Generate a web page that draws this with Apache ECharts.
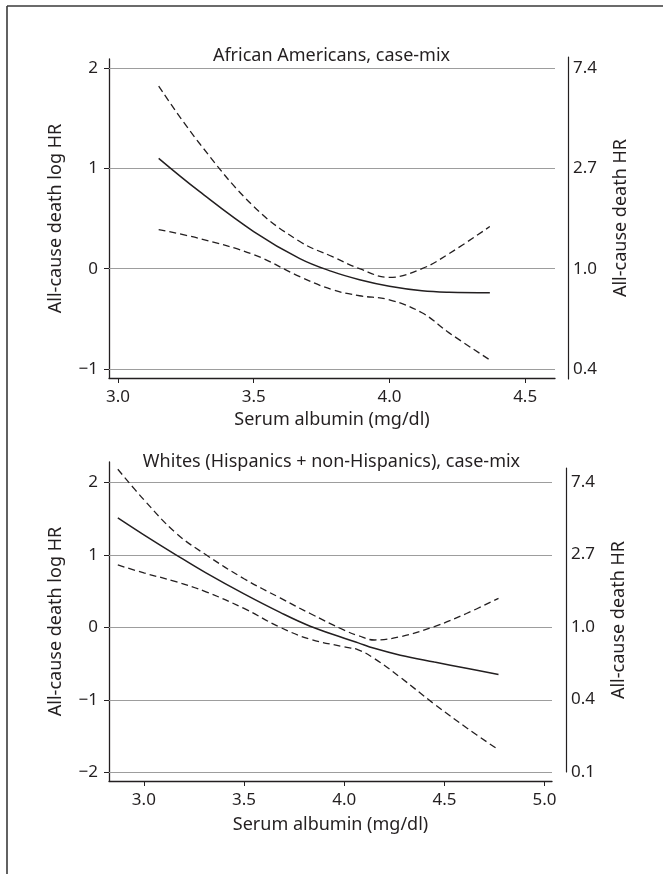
<!DOCTYPE html>
<html>
<head>
<meta charset="utf-8">
<script src="https://cdn.jsdelivr.net/npm/echarts@6/dist/echarts.min.js"></script>
<style>
  html, body { margin: 0; padding: 0; background: #fff; }
  #main { width: 663px; height: 874px; }
</style>
</head>
<body>
<div id="main"></div>
<script>
// 数据：上图 African Americans
var albuminTop = [3.15, 3.3, 3.5, 3.67, 3.79, 3.89, 4.0, 4.12, 4.22, 4.37];
var hrTop = [1.10, 0.77, 0.37, 0.10, -0.03, -0.11, -0.175, -0.22, -0.235, -0.24];
var upperTop = [1.82, 1.25, 0.62, 0.27, 0.12, 0.0, -0.087, 0.0, 0.15, 0.42];
var lowerTop = [0.39, 0.30, 0.14, -0.08, -0.21, -0.27, -0.31, -0.44, -0.64, -0.91];

// 数据：下图 Whites
var albuminBot = [2.87, 3.0, 3.16, 3.31, 3.5, 3.68, 3.83, 4.0, 4.07, 4.15, 4.28, 4.45, 4.61, 4.77];
var hrBot = [1.51, 1.276, 1.0, 0.75, 0.46, 0.205, 0.015, -0.15, -0.215, -0.29, -0.385, -0.48, -0.565, -0.65];
var upperBot = [2.18, 1.76, 1.30, 1.0, 0.67, 0.405, 0.19, -0.04, -0.115, -0.175, -0.13, 0.01, 0.19, 0.40];
var lowerBot = [0.86, 0.75, 0.63, 0.49, 0.26, 0.0, -0.165, -0.27, -0.31, -0.43, -0.69, -1.06, -1.385, -1.69];

// 刻度
var xTicksTop = [3.0, 3.5, 4.0, 4.5];
var xTicksBot = [3.0, 3.5, 4.0, 4.5, 5.0];
var logTicksTop = [-1, 0, 1, 2];
var logTicksBot = [-2, -1, 0, 1, 2];
var hrLabelsTop = ['0.4', '1.0', '2.7', '7.4'];
var hrLabelsBot = ['0.1', '0.4', '1.0', '2.7', '7.4'];

var ink = '#231f20';
var gridGray = '#9d9d9d';
var font = 'Noto Sans';

function pairs(xs, ys) {
    return xs.map(function (x, i) { return [x, ys[i]]; });
}

function xAxisOf(gridIndex, min, max, ticks, gap) {
    return {
        type: 'value', gridIndex: gridIndex, min: min, max: max,
        name: 'Serum albumin (mg/dl)', nameLocation: 'middle', nameGap: gap,
        nameTextStyle: { fontFamily: font, fontSize: 18, color: ink },
        axisLine: { show: true, onZero: false, lineStyle: { color: ink, width: 1.3 } },
        axisTick: { show: true, length: 5, customValues: ticks, lineStyle: { color: ink } },
        axisLabel: {
            customValues: ticks, margin: 11,
            fontFamily: font, fontSize: 17, color: ink,
            formatter: function (v) { return v.toFixed(1); }
        },
        splitLine: { show: false }
    };
}

function leftAxisOf(gridIndex, min, max, ticks) {
    return {
        type: 'value', gridIndex: gridIndex, min: min, max: max, position: 'left',
        name: 'All-cause death log HR', nameLocation: 'middle', nameGap: 44,
        nameTextStyle: { fontFamily: font, fontSize: 18, color: ink },
        axisLine: { show: true, onZero: false, lineStyle: { color: ink, width: 1.3 } },
        axisTick: { show: true, length: 5, customValues: ticks, lineStyle: { color: ink } },
        axisLabel: {
            customValues: ticks, margin: 11,
            fontFamily: font, fontSize: 17, color: ink,
            formatter: function (v) { return v < 0 ? '\u2212' + Math.abs(v) : String(v); }
        },
        splitLine: { show: false }
    };
}

function rightAxisOf(gridIndex, min, max, ticks, labels, offset) {
    return {
        type: 'value', gridIndex: gridIndex, min: min, max: max, position: 'right', offset: offset,
        name: 'All-cause death HR', nameLocation: 'middle', nameGap: 44,
        nameTextStyle: { fontFamily: font, fontSize: 18, color: ink },
        axisLine: { show: true, onZero: false, lineStyle: { color: ink, width: 1.2 } },
        axisTick: { show: false },
        axisLabel: {
            customValues: ticks, margin: 5,
            fontFamily: font, fontSize: 17, color: ink,
            formatter: function (v) { return labels[ticks.indexOf(Math.round(v))]; }
        },
        splitLine: { show: false }
    };
}

function curve(xIdx, yIdx, xs, ys, dashed, grid) {
    var s = {
        type: 'line', xAxisIndex: xIdx, yAxisIndex: yIdx,
        data: pairs(xs, ys), symbol: 'none', smooth: 0.4,
        lineStyle: { color: ink, width: dashed ? 1.3 : 1.5, type: dashed ? [7, 4] : 'solid' },
        silent: true, z: 3
    };
    if (grid) {
        s.markLine = {
            silent: true, symbol: 'none', label: { show: false }, z: 1,
            lineStyle: { color: gridGray, width: 1, type: 'solid' },
            data: grid.map(function (v) { return { yAxis: v }; })
        };
    }
    return s;
}

var myChart = echarts.init(document.getElementById('main'));

var option = {
    animation: false,
    backgroundColor: '#fff',
    title: [
        { text: 'African Americans, case-mix', left: 'center', top: 47, padding: 0,
          textStyle: { fontFamily: font, fontSize: 18, fontWeight: 'normal', color: ink } },
        { text: 'Whites (Hispanics + non-Hispanics), case-mix', left: 'center', top: 453, padding: 0,
          textStyle: { fontFamily: font, fontSize: 18, fontWeight: 'normal', color: ink } }
    ],
    grid: [
        { left: 109, right: 108, top: 59, bottom: 496 },
        { left: 109, right: 108, top: 57, bottom: 495 },
        { left: 109, right: 111, top: 462, bottom: 93 },
        { left: 109, right: 111, top: 468, bottom: 102 }
    ],
    xAxis: [
        xAxisOf(0, 2.967, 4.61, xTicksTop, 33),
        { type: 'value', gridIndex: 1, min: 2.967, max: 4.61, show: false },
        xAxisOf(2, 2.826, 5.037, xTicksBot, 35),
        { type: 'value', gridIndex: 3, min: 2.826, max: 5.037, show: false }
    ],
    yAxis: [
        leftAxisOf(0, -1.09, 2.09, logTicksTop),
        rightAxisOf(1, -1.1, 2.11, logTicksTop, hrLabelsTop, 13),
        leftAxisOf(2, -2.12, 2.28, logTicksBot),
        rightAxisOf(3, -2.0, 2.19, logTicksBot, hrLabelsBot, 14)
    ],
    graphic: [
        { type: 'line', shape: { x1: 7, y1: 6, x2: 663, y2: 6 }, style: { stroke: '#3a3a3a', lineWidth: 1.6 } },
        { type: 'line', shape: { x1: 7, y1: 6, x2: 7, y2: 874 }, style: { stroke: '#3a3a3a', lineWidth: 1.6 } }
    ],
    series: [
        curve(0, 0, albuminTop, hrTop, false, logTicksTop),
        curve(0, 0, albuminTop, upperTop, true),
        curve(0, 0, albuminTop, lowerTop, true),
        curve(2, 2, albuminBot, hrBot, false, logTicksBot),
        curve(2, 2, albuminBot, upperBot, true),
        curve(2, 2, albuminBot, lowerBot, true)
    ]
};

myChart.setOption(option);
</script>
</body>
</html>
